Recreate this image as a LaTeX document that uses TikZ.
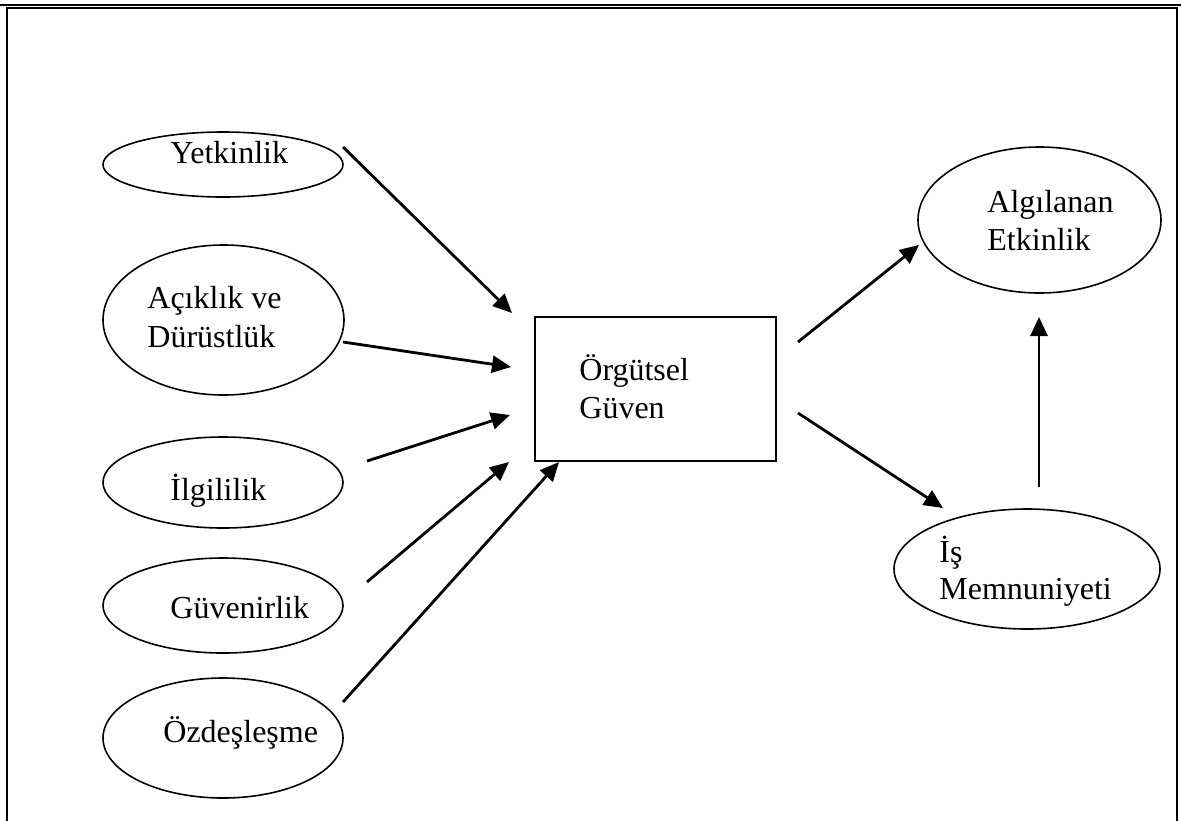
\documentclass[tikz,border=0pt]{standalone}
\usepackage{fontspec}
\setmainfont{Liberation Serif}
\usetikzlibrary{shapes.geometric,arrows.meta}
\begin{document}
\begin{tikzpicture}[x=0.5pt,y=-0.5pt,
  oval/.style={draw,ellipse,line width=0.8pt,inner sep=0pt},
  boxnode/.style={draw,rectangle,line width=1pt,inner sep=0pt},
  lbl/.style={anchor=base west,inner sep=0pt,font=\fontsize{16}{19}\selectfont},
  arr/.style={line width=1.4pt,-{Triangle[length=9.5pt,width=8.5pt]}},
  frame/.style={line width=1pt}]
\useasboundingbox (0,0) rectangle (1181,820);
% frame
\coordinate (f1) at (7,822);
\coordinate (f2) at (7,8);
\coordinate (f3) at (1177,8);
\coordinate (f4) at (1177,822);
\draw[frame] (f1) -- (f2) -- (f3) -- (f4);
\draw[line width=0.6pt] (0,5) -- (1181,5);
% ellipses
\node[oval,minimum width=120pt,minimum height=32.5pt] (yet) at (223,164.5) {};
\node[oval,minimum width=120.5pt,minimum height=75pt] (acik) at (223.5,320) {};
\node[oval,minimum width=120pt,minimum height=45.5pt] (ilg) at (223,482.5) {};
\node[oval,minimum width=120pt,minimum height=47.5pt] (guv) at (223,605.5) {};
\node[oval,minimum width=120pt,minimum height=60pt] (ozd) at (223,738) {};
\node[oval,minimum width=121.5pt,minimum height=73pt] (alg) at (1039.5,220) {};
\node[oval,minimum width=133pt,minimum height=60pt] (ism) at (1027,569) {};
\node[boxnode,minimum width=120.5pt,minimum height=72pt] (og) at (655.5,389) {};
% labels
\node[lbl] (tyet) at (170,163) {Yetkinlik};
\node[lbl] (tacik1) at (147,308) {Açıklık ve};
\node[lbl] (tacik2) at (147,347) {Dürüstlük};
\node[lbl] (tilg) at (170,500) {İlgililik};
\node[lbl] (tguv) at (170,618) {Güvenirlik};
\node[lbl] (tozd) at (163,742) {Özdeşleşme};
\node[lbl] (tog1) at (579,380) {Örgütsel};
\node[lbl] (tog2) at (579,418) {Güven};
\node[lbl] (talg1) at (987,212) {Algılanan};
\node[lbl] (talg2) at (987,250) {Etkinlik};
\node[lbl] (tism1) at (939,562) {İş};
\node[lbl] (tism2) at (939,599) {Memnuniyeti};
% arrow end points
\coordinate (s1) at (343,147);  \coordinate (e1) at (512,313);
\coordinate (s2) at (343,342);  \coordinate (e2) at (511,367);
\coordinate (s3) at (367,461);  \coordinate (e3) at (510,415);
\coordinate (s4) at (367,582);  \coordinate (e4) at (509,462);
\coordinate (s5) at (343,702);  \coordinate (e5) at (559,462);
\coordinate (s6) at (798,342);  \coordinate (e6) at (919,245);
\coordinate (s7) at (798,413);  \coordinate (e7) at (943,508);
\coordinate (s8) at (1039,487); \coordinate (e8) at (1039,317);
\draw[arr] (s1) -- (e1);
\draw[arr] (s2) -- (e2);
\draw[arr] (s3) -- (e3);
\draw[arr] (s4) -- (e4);
\draw[arr] (s5) -- (e5);
\draw[arr] (s6) -- (e6);
\draw[arr] (s7) -- (e7);
\draw[arr] (s8) -- (e8);
\end{tikzpicture}
\end{document}
